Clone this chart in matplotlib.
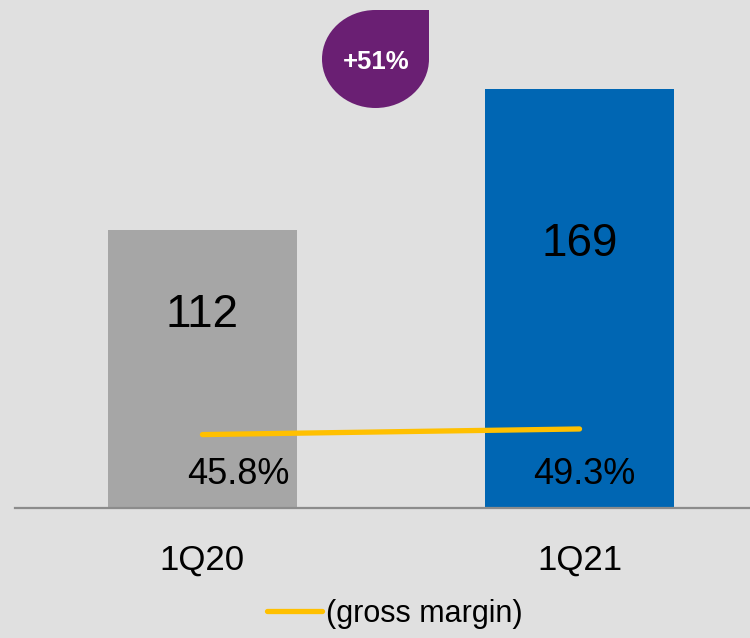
import matplotlib

matplotlib.use("Agg")
import matplotlib.pyplot as plt
from matplotlib.path import Path
from matplotlib.patches import PathPatch
from matplotlib.lines import Line2D

plt.rcParams["font.family"] = ["Liberation Sans", "DejaVu Sans"]

quarters = ["1Q20", "1Q21"]
revenue = [112, 169]
margin = [45.8, 49.3]
margin_labels = ["45.8%", "49.3%"]
growth_label = "+51%"
legend_label = "(gross margin)"

BG = "#e0e0e0"
BAR_COLORS = ["#a6a6a6", "#0066b3"]
YELLOW = "#ffc000"
PURPLE = "#6a1f73"

fig = plt.figure(figsize=(7.5, 6.38), dpi=100, facecolor=BG)
ax = fig.add_axes([0.02, 0.2038, 0.98, 0.7962])
ax.set_facecolor(BG)

xs = list(range(len(quarters)))
ax.bar(xs, revenue, width=0.5, color=BAR_COLORS, zorder=2)
ax.set_xlim(-0.497, 1.452)
ax.set_ylim(0, 204.8)

for x, v in zip(xs, revenue):
    ax.text(x, v / 2 + 22, f"{v}", ha="center", va="center", fontsize=33, color="black", zorder=4)

ax.set_xticks(xs)
ax.set_xticklabels(quarters, fontsize=25)
ax.tick_params(axis="x", length=0, pad=26)
ax.set_yticks([])
for s in ["top", "right", "left"]:
    ax.spines[s].set_visible(False)
ax.spines["bottom"].set_color("#8c8c8c")
ax.spines["bottom"].set_linewidth(1.6)

# gross margin on its own hidden scale
ax2 = ax.twinx()
ax2.set_ylim(0, 317)
ax2.set_yticks([])
for s in ax2.spines.values():
    s.set_visible(False)
ax2.plot(xs, margin, color=YELLOW, lw=3.8, solid_capstyle="round", zorder=3)

label_dx = [0.094, 0.013]
for x, dx, lab in zip(xs, label_dx, margin_labels):
    ax.text(x + dx, 13.6, lab, ha="center", va="center", fontsize=26, color="black", zorder=4)

# growth badge (teardrop: top-right corner sharp), pixel coords
x0, x1, y0, y1 = 322, 429, 638 - 108, 638 - 10
rx, ry = (x1 - x0) / 2, (y1 - y0) / 2
kx, ky = 0.5523 * rx, 0.5523 * ry
verts = [
    (x0 + rx, y1), (x1, y1), (x1, y0 + ry),
    (x1, y0 + ry - ky), (x1 - rx + kx, y0), (x1 - rx, y0),
    (x0 + rx - kx, y0), (x0, y0 + ry - ky), (x0, y0 + ry),
    (x0, y1 - ry + ky), (x0 + rx - kx, y1), (x0 + rx, y1),
    (x0 + rx, y1),
]
codes = [Path.MOVETO, Path.LINETO, Path.LINETO,
         Path.CURVE4, Path.CURVE4, Path.CURVE4,
         Path.CURVE4, Path.CURVE4, Path.CURVE4,
         Path.CURVE4, Path.CURVE4, Path.CURVE4,
         Path.CLOSEPOLY]
verts = [(vx / 750, vy / 638) for vx, vy in verts]
fig.patches.append(PathPatch(Path(verts, codes), facecolor=PURPLE, edgecolor="none",
                             transform=fig.transFigure))
fig.text(376 / 750, 1 - 62 / 638, growth_label, ha="center", va="center",
         fontsize=18.5, fontweight="bold", color="white")

handle = Line2D([], [], color=YELLOW, lw=3.8, solid_capstyle="round")
fig.legend(handles=[handle], labels=[legend_label], loc="center",
           bbox_to_anchor=(395 / 750, 1 - 614 / 638), frameon=False,
           fontsize=22, handlelength=1.8, handletextpad=0.15, borderpad=0)

fig.savefig("out.png", dpi=100, facecolor=BG)
